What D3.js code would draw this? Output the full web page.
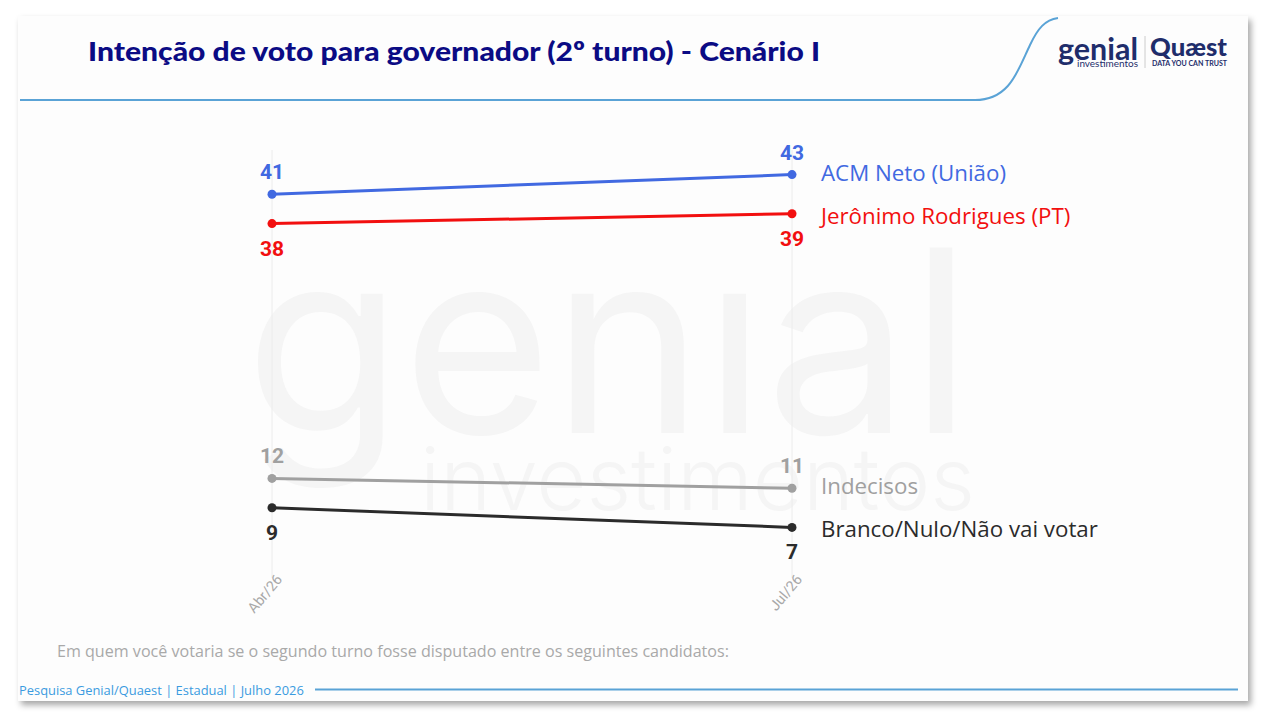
<!DOCTYPE html>
<html><head><meta charset="utf-8">
<script src="https://cdn.jsdelivr.net/npm/d3@7"></script>
<style>
html,body{margin:0;padding:0;background:#ffffff;}
svg{display:block;}
</style></head>
<body>
<svg id="chart" width="1262" height="718"></svg>
<script>
const periods = ["Abr/26", "Jul/26"];
const seriesNames = ["ACM Neto (União)", "Jerônimo Rodrigues (PT)", "Indecisos", "Branco/Nulo/Não vai votar"];
const acmNeto = [41, 43];
const jeronimo = [38, 39];
const indecisos = [12, 11];
const branco = [9, 7];
const seriesColors = ["#4169e1", "#f20f0f", "#a0a0a0", "#2b2b2b"];
const labelPos = ["above", "below", "above", "below"];

const svg = d3.select("#chart");
const W = 1262, H = 718;

// shadowed card
const defs = svg.append("defs");
const f = defs.append("filter").attr("id","sh").attr("x","-5%").attr("y","-5%").attr("width","110%").attr("height","110%");
f.append("feDropShadow").attr("dx",3).attr("dy",4).attr("stdDeviation",3).attr("flood-color","#000").attr("flood-opacity",0.35);
svg.append("rect").attr("width",W).attr("height",H).attr("fill","#ffffff");
svg.append("rect").attr("x",18).attr("y",16).attr("width",1230).attr("height",685).attr("fill","#fdfdfd").attr("filter","url(#sh)");

// watermark
svg.append("text").attr("x",245).attr("y",433).attr("font-family","Inter, sans-serif").attr("font-weight",400)
  .attr("font-size",255).attr("fill","#f5f5f5").attr("textLength",727).attr("lengthAdjust","spacingAndGlyphs").text("genıal");
svg.append("text").attr("x",420).attr("y",510).attr("font-family","Inter, sans-serif").attr("font-weight",300)
  .attr("font-size",86).attr("fill","#f5f5f5").attr("textLength",555).attr("lengthAdjust","spacingAndGlyphs").text("investimentos");

// header line with curve
svg.append("path").attr("d","M20,100 L975,100 C1010,100 1018,70 1030,45 C1038,28 1045,20 1058,18")
  .attr("fill","none").attr("stroke","#5aa3d6").attr("stroke-width",2);
// footer line
svg.append("line").attr("x1",315).attr("x2",1238).attr("y1",689.5).attr("y2",689.5).attr("stroke","#5aa3d6").attr("stroke-width",2);

// title
svg.append("text").attr("x",88).attr("y",61).attr("font-family","Lato, sans-serif").attr("font-weight",900)
  .attr("font-size",27).attr("fill","#0b0b84").attr("textLength",732).attr("lengthAdjust","spacingAndGlyphs")
  .text("Intenção de voto para governador (2º turno) - Cenário I");

// logos
svg.append("text").attr("x",1058).attr("y",60).attr("font-family","Lato, sans-serif").attr("font-weight",700)
  .attr("font-size",30).attr("fill","#1f2d6b").attr("textLength",80).attr("lengthAdjust","spacingAndGlyphs").text("genial");
svg.append("text").attr("x",1077).attr("y",67).attr("font-family","Lato, sans-serif").attr("font-size",10).attr("fill","#1f2d6b")
  .attr("textLength",61).attr("lengthAdjust","spacingAndGlyphs").text("investimentos");
svg.append("line").attr("x1",1145).attr("x2",1145).attr("y1",36).attr("y2",68).attr("stroke","#ccc");
svg.append("text").attr("x",1150).attr("y",56).attr("font-family","Lato, sans-serif").attr("font-weight",900)
  .attr("font-size",24).attr("fill","#1f2d6b").attr("textLength",77).attr("lengthAdjust","spacingAndGlyphs").text("Quæst");
svg.append("text").attr("x",1152).attr("y",66).attr("font-family","Lato, sans-serif").attr("font-weight",700)
  .attr("font-size",7).attr("fill","#1f2d6b").attr("textLength",75).attr("lengthAdjust","spacingAndGlyphs").text("DATA YOU CAN TRUST");

// scales
const x = d3.scalePoint().domain(periods).range([272, 792]);
const y = d3.scaleLinear().domain([0, 43]).range([596, 596 - 43*9.8]);

// gridlines + axis
svg.selectAll(".vgrid").data(periods).join("line").attr("class","vgrid")
  .attr("x1",d=>x(d)).attr("x2",d=>x(d)).attr("y1",150).attr("y2",578).attr("stroke","#ececec").attr("stroke-width",1);
const xAxis = d3.axisBottom(x).tickSize(0).tickPadding(0);
const gAxis = svg.append("g").attr("transform","translate(0,580)").call(xAxis);
gAxis.select(".domain").remove();
gAxis.selectAll(".tick text").attr("font-family","Roboto, sans-serif").attr("font-size",14.5).attr("fill","#a8a8a8")
  .attr("text-anchor","end").attr("transform","translate(8,-5) rotate(-50)").attr("dy","0.35em").attr("dx","-2");

const allSeries = [acmNeto, jeronimo, indecisos, branco];
const line = d3.line().x((d,i)=>x(periods[i])).y(d=>y(d));
allSeries.forEach((vals, si) => {
  const g = svg.append("g");
  g.append("path").datum(vals).attr("d",line).attr("fill","none").attr("stroke",seriesColors[si]).attr("stroke-width",3);
  g.selectAll("circle").data(vals).join("circle").attr("cx",(d,i)=>x(periods[i])).attr("cy",d=>y(d)).attr("r",4.5).attr("fill",seriesColors[si]);
  g.selectAll("text.v").data(vals).join("text").attr("class","v")
    .attr("x",(d,i)=>x(periods[i])).attr("y",d=> labelPos[si]==="above" ? y(d)-15 : y(d)+32)
    .attr("text-anchor","middle").attr("font-family","Roboto, sans-serif").attr("font-weight",700).attr("font-size",21)
    .attr("fill",seriesColors[si]).text(d=>d);
  g.append("text").attr("x",821).attr("y",y(vals[1]) + (labelPos[si]==="above" ? 6 : 10))
    .attr("font-family","Open Sans, sans-serif").attr("font-size",22.3)
    .attr("fill",seriesColors[si]).text(seriesNames[si]);
});

// note + footer
svg.append("text").attr("x",57).attr("y",657).attr("font-family","Open Sans, sans-serif").attr("font-size",16.1).attr("fill","#a9a9a9")
  .text("Em quem você votaria se o segundo turno fosse disputado entre os seguintes candidatos:");
svg.append("text").attr("x",19).attr("y",695).attr("font-family","Open Sans, sans-serif").attr("font-size",12.9).attr("fill","#3b9be0")
  .text("Pesquisa Genial/Quaest | Estadual | Julho 2026");
</script>
</body></html>
